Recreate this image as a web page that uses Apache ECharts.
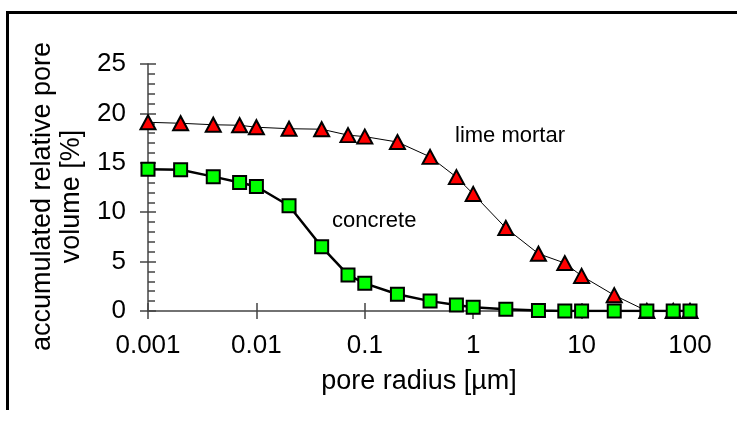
<!DOCTYPE html>
<html>
<head>
<meta charset="utf-8">
<script src="https://cdn.jsdelivr.net/npm/echarts@6/dist/echarts.min.js"></script>
<style>
  html, body { margin: 0; padding: 0; background: #fff; }
  #chart { width: 737px; height: 421px; }
</style>
</head>
<body>
<div id="chart"></div>
<script>
// pore radius [µm]
var radius = [0.001, 0.002, 0.004, 0.007, 0.01, 0.02, 0.04, 0.07, 0.1, 0.2, 0.4,
  0.7, 1, 2, 4, 7, 10, 20, 40, 70, 100];
// accumulated relative pore volume [%]
var limeMortar = [19.1, 19.0, 18.85, 18.8, 18.6, 18.45, 18.4, 17.8, 17.65, 17.1, 15.6,
  13.55, 11.85, 8.4, 5.8, 4.85, 3.55, 1.6, 0, 0, 0];
var concrete = [14.35, 14.3, 13.6, 13.0, 12.6, 10.65, 6.5, 3.65, 2.8, 1.7, 1.0,
  0.6, 0.37, 0.17, 0.05, 0, 0, 0, 0, 0, 0];
var xTickLabels = ["0.001", "0.01", "0.1", "1", "10", "100"];
var yTickLabels = ["0", "5", "10", "15", "20", "25"];

var font = "'Liberation Sans', Arial, sans-serif";
var axisColor = "#444";

function pairs(vals) {
  return radius.map(function (r, i) { return [r, vals[i]]; });
}
function xLabel(v) {
  var i = Math.round(Math.log10(v)) + 3;
  return xTickLabels[i] || "";
}
function yLabel(v) {
  return yTickLabels[Math.round(v / 5)] || "";
}

var gridBox = { left: 148, right: 47, top: 64, bottom: 110 };

var chart = echarts.init(document.getElementById("chart"));
chart.setOption({
  animation: false,
  textStyle: { fontFamily: font },
  grid: [
    Object.assign({ containLabel: false }, gridBox),
    Object.assign({ containLabel: false }, gridBox)
  ],
  xAxis: [
    {
      gridIndex: 0,
      type: "log",
      logBase: 10,
      min: 0.001,
      max: 100,
      name: "pore radius [µm]",
      nameLocation: "middle",
      nameGap: 57,
      nameTextStyle: { fontSize: 27, color: "#000", fontFamily: font },
      axisLine: { lineStyle: { color: axisColor, width: 1.5 } },
      axisTick: { show: true, inside: false, length: 8, lineStyle: { color: axisColor, width: 1.5 } },
      minorTick: { show: false },
      axisLabel: { margin: 22, fontSize: 26, color: "#000", fontFamily: font, formatter: xLabel },
      splitLine: { show: false },
      minorSplitLine: { show: false }
    },
    {
      gridIndex: 1,
      type: "log",
      logBase: 10,
      min: 0.001,
      max: 100,
      axisLine: { show: false },
      axisTick: { show: true, inside: true, length: 8, lineStyle: { color: axisColor, width: 1.5 } },
      axisLabel: { show: false },
      splitLine: { show: false }
    }
  ],
  yAxis: [
    {
      gridIndex: 0,
      type: "value",
      min: 0,
      max: 25,
      interval: 5,
      name: "accumulated relative pore\nvolume [%]",
      nameLocation: "middle",
      nameGap: 62,
      nameTextStyle: { fontSize: 27, lineHeight: 29, color: "#000", fontFamily: font, padding: [0, 18, 0, 0] },
      axisLine: { show: true, lineStyle: { color: axisColor, width: 1.5 } },
      axisTick: { show: true, inside: false, length: 8, lineStyle: { color: axisColor, width: 1.5 } },
      axisLabel: { margin: 22, fontSize: 26, color: "#000", fontFamily: font, formatter: yLabel },
      splitLine: { show: false }
    },
    {
      gridIndex: 1,
      type: "value",
      min: 0,
      max: 25,
      interval: 5,
      axisLine: { show: false },
      axisTick: { show: true, inside: true, length: 8, lineStyle: { color: axisColor, width: 1.5 } },
      minorTick: { show: true, splitNumber: 5, length: 7, lineStyle: { color: axisColor, width: 1.5 } },
      axisLabel: { show: false },
      splitLine: { show: false }
    }
  ],
  series: [
    {
      name: "lime mortar",
      type: "line",
      xAxisIndex: 0,
      yAxisIndex: 0,
      data: pairs(limeMortar),
      symbol: "triangle",
      symbolSize: [15, 14],
      itemStyle: { color: "#ff0000", borderColor: "#000", borderWidth: 2 },
      lineStyle: { color: "#000", width: 1 },
      z: 2
    },
    {
      name: "concrete",
      type: "line",
      xAxisIndex: 0,
      yAxisIndex: 0,
      data: pairs(concrete),
      symbol: "rect",
      symbolSize: 13,
      itemStyle: { color: "#00ff00", borderColor: "#000", borderWidth: 2 },
      lineStyle: { color: "#000", width: 2.5 },
      z: 3
    }
  ],
  graphic: [
    {
      type: "polyline",
      shape: { points: [[7.5, 410], [7.5, 12.5], [737, 12.5]] },
      style: { stroke: "#000", lineWidth: 3, fill: null }
    },
    {
      type: "text",
      left: 455,
      top: 125,
      style: { text: "lime mortar", fontSize: 22, fontFamily: font, fill: "#000" }
    },
    {
      type: "text",
      left: 332,
      top: 210,
      style: { text: "concrete", fontSize: 22, fontFamily: font, fill: "#000" }
    }
  ]
});
</script>
</body>
</html>
